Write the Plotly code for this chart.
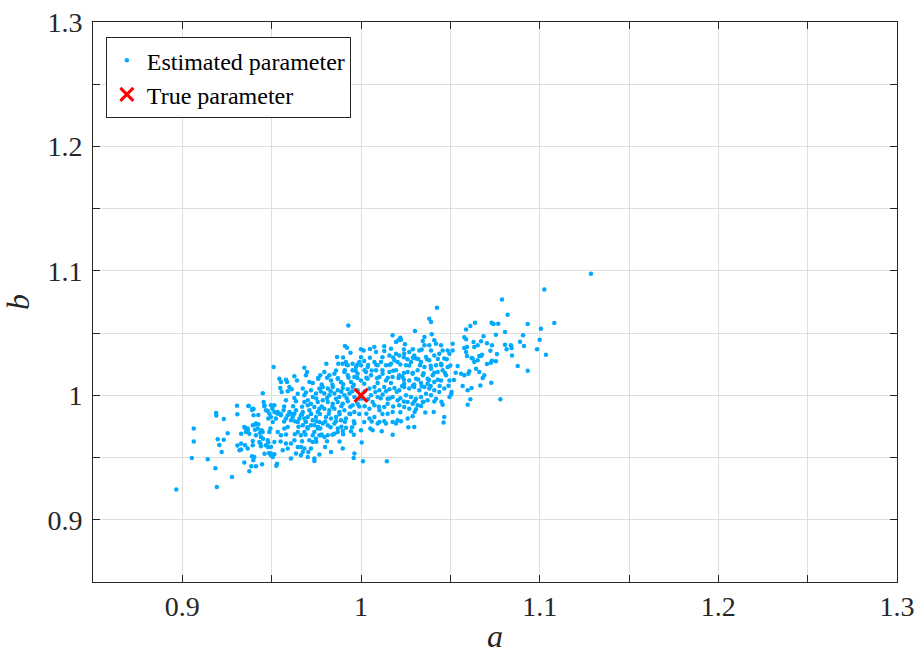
import plotly.graph_objects as go

# Estimated parameters (a, b), read off the reference picture region by region
left_tail = [(0.8966,0.9243),(0.9064,0.9733),(0.9064,0.963),(0.9053,0.9497),(0.9142,0.9486),(0.9185,0.9414),
 (0.9193,0.9264),(0.9278,0.9344),(0.9189,0.9858),(0.919,0.9837),(0.9232,0.981),(0.9198,0.9647),(0.9232,0.9644),
 (0.9207,0.9601),(0.922,0.9545),(0.9254,0.9695),(0.9306,0.9917),(0.9308,0.9847),(0.9372,0.9914),(0.939,0.9882),
 (0.9399,0.989),(0.945,1.0016),(0.9308,0.9596),(0.9329,0.9612),(0.932,0.9558),(0.9329,0.9692),(0.9351,0.9737),
 (0.9366,0.9719),(0.9375,0.9692),(0.9408,0.9765),(0.9425,0.9767),(0.9407,0.9724),(0.9394,0.9633),(0.939,0.951),
 (0.9397,0.9478),(0.9386,0.943),(0.9375,0.939),(0.9347,0.946),(0.9412,0.943),(0.9446,0.9446),(0.9435,0.97),
 (0.9444,0.9719),(0.9452,0.9652),(0.9437,0.9612),(0.944,0.959),(0.9481,0.962),(0.9478,0.9585),(0.946,0.953),
 (0.9485,0.9537),(0.9455,0.9946),(0.9459,0.9912),(0.9496,0.992),(0.9504,0.9893),(0.9478,0.9874),(0.9487,0.9853),
 (0.9496,0.9826),(0.9481,0.9813),(0.9526,0.9861),(0.9534,0.9853),(0.9399,0.9839),(0.9425,0.9842),(0.9329,0.9564),
 (0.9351,0.9598),(0.9496,0.9518),(0.9515,0.9526),(0.953,0.9451),(0.9526,0.9435)]

left_core = [(0.9548,1.0059),(0.9556,1.0027),(0.959,1.0032),(0.9599,1.0067),(0.9612,1.0048),(0.958,0.996),
 (0.9627,0.9978),(0.9636,0.9952),(0.9646,1.0013),(0.9674,1.0054),(0.9683,1.0),(0.9692,1.0022),(0.9702,0.996),
 (0.972,1.004),(0.973,0.9987),(0.9748,1.0014),(0.9767,1.0054),(0.9369,0.9914),(0.9394,0.9893),(0.9459,0.992),
 (0.9468,0.988),(0.9515,0.992),(0.9515,0.9866),(0.9524,0.9813),(0.9506,0.9786),(0.9493,0.9733),(0.9487,0.9705),
 (0.9534,0.9866),(0.9552,0.9839),(0.9567,0.988),(0.958,0.9813),(0.959,0.9839),(0.9599,0.9866),(0.9608,0.98),
 (0.9618,0.9826),(0.9627,0.9853),(0.9636,0.988),(0.9646,0.9786),(0.9655,0.9813),(0.9664,0.9839),(0.9674,0.9866),
 (0.9683,0.9813),(0.9692,0.9786),(0.9702,0.9826),(0.9711,0.988),(0.972,0.9853),(0.973,0.98),(0.9739,0.9759),
 (0.9748,0.9826),(0.9758,0.9866),(0.9767,0.9786),(0.9772,0.9733),(0.9347,0.9746),(0.9356,0.9705),(0.9366,0.9733),
 (0.9394,0.9759),(0.9412,0.9773),(0.9422,0.9733),(0.9412,0.9679),(0.944,0.9665),(0.945,0.9705),(0.9431,0.9625),
 (0.9394,0.9598),(0.9366,0.9572),(0.9468,0.9598),(0.9478,0.9639),(0.9496,0.9585),(0.9403,0.9505),(0.9496,0.9532),
 (0.9506,0.9505),(0.9562,0.9558),(0.958,0.9612),(0.9608,0.9612),(0.9627,0.9639),(0.9646,0.9585),(0.9674,0.9545),
 (0.9664,0.9518),(0.9702,0.9505),(0.972,0.9572),(0.9739,0.9492),(0.9636,0.9532),(0.9608,0.9492),(0.959,0.9572),
 (0.9515,0.9625),(0.9534,0.9705),(0.9552,0.9679),(0.9571,0.9733),(0.9683,0.9946),(0.9702,0.992),(0.972,0.9933),
 (0.9739,0.9906),(0.9758,0.9946),(0.9767,0.9893),(0.9702,0.9733),(0.972,0.9759),(0.9739,0.9705),(0.9758,0.9733),
 (0.973,0.9679),(0.9748,0.9652),(0.9767,0.9679),(0.9683,0.9705),(0.9711,0.9639),(0.9664,0.9679),(0.9646,0.9705),
 (0.9674,0.9759)]

upper_left = [(0.9511,1.0227),(0.9683,1.0222),(0.9543,1.0134),(0.9552,1.0107),(0.958,1.0125),(0.9586,1.0107),
 (0.9627,1.0153),(0.9642,1.012),(0.9692,1.0161),(0.9711,1.0107),(0.973,1.0099),(0.9761,1.0134),(0.9772,1.0161),
 (0.9698,1.0187)]

upper_mid = [(0.9929,1.0562),(0.991,1.0396),(0.9922,1.0383),(0.9941,1.0343),(1.0015,1.0361),(0.9866,1.0308),
 (0.9806,1.0254),(1.0177,1.0482),(1.0196,1.0428),(1.0209,1.0442),(1.022,1.0463),(1.0075,1.0388),(1.013,1.0394),
 (1.0168,1.0375),(1.0159,1.0321),(1.013,1.0356),(1.0084,1.0348),(1.0196,1.0335),(1.0214,1.0321),(0.9873,1.0254),
 (0.9897,1.0254),(0.9916,1.0268),(0.9926,1.0241),(0.9953,1.0254),(0.9972,1.0227),(0.9991,1.0268),(1.0,1.0241),
 (1.0018,1.0275),(1.0037,1.0227),(1.0075,1.0268),(1.0093,1.0241),(1.0112,1.0268),(1.014,1.0241),(1.0168,1.0254),
 (1.0187,1.0281),(1.0205,1.0268),(0.9795,1.0187),(0.9823,1.0161),(0.9851,1.0174),(0.987,1.0134),(0.9832,1.012),
 (0.9907,1.0187),(0.9926,1.0161),(0.9953,1.0201),(0.9963,1.0147),(0.9981,1.0174),(1.0,1.012),(1.0028,1.0187),
 (1.0037,1.0134),(1.0056,1.0161),(1.0084,1.0201),(1.0103,1.0147),(1.0121,1.0174),(1.014,1.012),(1.0159,1.0187),
 (1.0177,1.0147),(1.0196,1.0201),(1.0214,1.0161),(0.9888,1.0107),(0.9944,1.0107),(1.0018,1.0094),(1.0093,1.0099),
 (1.0168,1.0099)]

upper_right = [(1.0425,1.0704),(1.0382,1.0616),(1.0392,1.0589),(1.0302,1.0517),(1.0396,1.049),(1.0355,1.0468),
 (1.0346,1.0436),(1.0355,1.0402),(1.0382,1.0402),(1.041,1.0442),(1.042,1.0415),(1.0392,1.0361),(1.0224,1.0447),
 (1.0246,1.041),(1.0448,1.0402),(1.0457,1.0361),(1.0485,1.0361),(1.0495,1.0335),(1.0513,1.0415),(1.0513,1.0361),
 (1.0242,1.0335),(1.027,1.0348),(1.0298,1.0321),(1.0326,1.0361),(1.0308,1.0295),(1.028,1.0268),(1.0252,1.0241),
 (1.0336,1.0268),(1.0364,1.0308),(1.0382,1.0281),(1.041,1.0321),(1.0438,1.0335),(1.0466,1.0295),(1.0448,1.0254),
 (1.042,1.0241),(1.0392,1.0214),(1.0355,1.0227),(1.0317,1.0201),(1.0289,1.0174),(1.0261,1.0187),(1.0233,1.0147),
 (1.027,1.012),(1.0308,1.0134),(1.0346,1.0161),(1.0373,1.0134),(1.0401,1.0161),(1.0429,1.0187),(1.0457,1.0201),
 (1.0485,1.0227),(1.0476,1.0161),(1.0495,1.012),(1.0448,1.012),(1.041,1.0107),(1.0373,1.0094),(1.0336,1.0099),
 (1.0298,1.0088),(1.0242,1.0094)]

right_tail = [(1.1287,1.0978),(1.1026,1.0851),(1.0789,1.0771),(1.0821,1.0648),(1.1082,1.0581),(1.0933,1.0573),
 (1.1007,1.0536),(1.0731,1.0584),(1.0742,1.0573),(1.0768,1.0576),(1.0638,1.0584),(1.0612,1.0557),(1.0588,1.053),
 (1.0686,1.0474),(1.0806,1.0509),(1.0755,1.0487),(1.0907,1.0482),(1.089,1.0431),(1.0912,1.0396),(1.0839,1.0402),
 (1.0843,1.038),(1.0806,1.0407),(1.0815,1.037),(1.0845,1.0321),(1.1,1.0447),(1.0985,1.037),(1.1035,1.0327),
 (1.0877,1.0235),(1.0933,1.0198),(1.0733,1.0402),(1.0705,1.0418),(1.0724,1.0359),(1.0761,1.0332),(1.0755,1.0273),
 (1.0727,1.0262),(1.0733,1.0278),(1.0705,1.0251),(1.0729,1.0102),(1.078,0.9968),(1.0672,1.0434),(1.0653,1.0402),
 (1.063,1.0428),(1.0634,1.0388),(1.0593,1.0388),(1.0578,1.038),(1.0588,1.0348),(1.0593,1.0316),(1.0619,1.03),
 (1.0634,1.0268),(1.0672,1.0316),(1.0662,1.0316),(1.0677,1.0327),(1.069,1.0161),(1.0681,1.0139),(1.0668,1.008),
 (1.0619,1.0059),(1.0597,1.004),(1.0569,1.0075),(1.0606,1.0193),(1.0601,1.0174),(1.0578,1.0161),(1.056,1.0174),
 (1.0541,1.0235),(1.0612,0.9968),(1.0597,0.9925),(1.0504,1.0006),(1.0457,0.9925),(1.0407,0.9866),(1.0507,1.0027),
 (1.0578,1.0466),(1.0588,1.045),(1.0653,1.0281),(1.0625,1.0295),(1.0644,1.0214),(1.0662,1.0187)]

lower_right = [(1.0495,0.9987),(1.0466,0.9826),(1.0462,0.9781),(1.0289,0.9831),(1.0261,0.9813),(1.0224,0.9791),
 (1.0265,0.9743),(1.0298,0.9746),(1.0242,1.0067),(1.027,1.0054),(1.0298,1.0067),(1.0326,1.004),(1.0355,1.0067),
 (1.0382,1.0054),(1.041,1.004),(1.0438,1.0027),(1.0466,1.0054),(1.0252,1.0),(1.028,0.9987),(1.0308,0.9973),
 (1.0336,0.9987),(1.0364,1.0013),(1.0392,1.0),(1.042,0.9973),(1.0261,0.9946),(1.0289,0.9933),(1.0317,0.992),
 (1.0346,0.9946),(1.0242,0.9906),(1.027,0.9893),(1.0308,0.9888),(1.0336,0.9914),(1.0373,0.996)]

center = [(1.0004,0.962),(0.9963,0.9532),(0.9959,0.9497),(1.0011,0.947),(1.0145,0.947),(0.9898,0.9572),
 (0.9832,0.9545),(0.9799,0.9585),(1.0177,0.9684),(1.0116,0.9711),(1.0052,0.9733),(1.0065,0.9719),(1.0,0.9719),
 (0.9944,0.9711),(0.9916,0.974),(0.987,0.9733),(0.9814,0.9679),(0.9795,0.9665),(1.0205,0.98),(1.0177,0.9786),
 (1.014,0.9773),(1.0103,0.9786),(1.0075,0.9826),(1.0047,0.9813),(1.0018,0.9786),(0.9963,0.9773),(1.0177,0.9866),
 (1.0149,0.9853),(1.013,0.9906),(1.0103,0.988),(1.0075,0.992),(1.0047,0.9893),(0.9786,1.0067),(0.9814,1.0054),
 (0.9842,1.0067),(0.987,1.004),(0.9898,1.0059),(0.9926,1.0048),(0.9953,1.0067),(0.9981,1.004),(0.9795,1.0014),
 (0.9823,1.0),(0.9851,1.0014),(0.9879,0.9987),(0.9907,1.0),(0.9935,1.0014),(0.9963,0.9987),(0.9991,0.9973),
 (0.9786,0.996),(0.9814,0.9946),(0.9842,0.9933),(0.987,0.9946),(0.9898,0.9933),(0.9926,0.9952),(0.9953,0.992),
 (0.9981,0.9933),(0.9795,0.9893),(0.9823,0.988),(0.9851,0.9893),(0.9879,0.9866),(0.9907,0.988),(0.9935,0.9853),
 (0.9963,0.9866),(0.9804,0.9826),(0.9832,0.9813),(0.986,0.9826),(0.9888,0.98),(0.9916,0.9813),(0.9786,0.9773),
 (0.9814,0.9759),(0.9851,0.9773),(1.0047,1.0054),(1.0075,1.0067),(1.0103,1.004),(1.013,1.0067),(1.0159,1.0048),
 (1.0187,1.0059),(1.0214,1.004),(1.0056,1.0),(1.0093,0.9987),(1.0121,1.0006),(1.0149,0.9973),(1.0177,0.9987),
 (1.0205,0.996),(1.0065,0.9946),(1.0149,0.9933),(1.0214,0.992)]

lower = [(0.9739,0.9472),(0.9767,0.9524),(0.9664,0.9585),(0.9683,0.9572),(0.9705,0.9545),(1.0196,0.9773),
 (1.0093,0.9773),(0.9898,0.9713),(0.987,0.9705),(0.9851,0.9692),(0.9776,0.9679),(0.973,0.9625)]

# extra points estimated for the saturated core of the cloud
core_fill = [
 (0.978,1.0087),(0.984,1.0085),(0.990,1.0089),(0.996,1.0086),
 (0.9775,1.003),(0.983,1.0032),(0.989,1.0028),(0.995,1.0031),(1.002,1.003),(1.008,1.0027),(1.014,1.0032),(1.020,1.0029),
 (0.975,0.9975),(0.981,0.9978),(0.986,0.9972),(0.992,0.9976),(1.001,0.9975),(1.004,0.9971),(1.011,0.9977),(1.016,0.9974),(1.022,0.9976),
 (0.957,0.991),(0.962,0.9912),(0.967,0.9908),(0.978,0.9911),(0.984,0.9909),(0.989,0.9912),(0.994,0.9908),(0.999,0.991),(1.002,0.9913),(1.010,0.9909),(1.018,0.9911),
 (0.955,0.985),(0.961,0.9852),(0.967,0.9848),(0.972,0.9851),(0.977,0.9849),(0.982,0.9852),(0.988,0.9848),(0.994,0.9851),(0.999,0.9849),(1.003,0.9852),(1.012,0.985),
 (0.957,0.979),(0.963,0.9792),(0.969,0.9788),(0.975,0.9791),(0.980,0.9789),(0.986,0.9792),(0.991,0.9788),(0.996,0.9791),(1.006,0.9789),(1.013,0.9792),
 (0.959,0.9745),(0.965,0.9747),(0.970,0.9743),(0.976,0.9746),(0.983,0.9744),(0.989,0.9747),(0.995,0.9743),
 (0.958,0.9685),(0.963,0.9687),(0.969,0.9683),(0.978,0.9686),(0.984,0.9684),(0.990,0.9687),(0.996,0.9683),
 (0.955,0.963),(0.967,0.9632),(0.975,0.9628),(0.981,0.9631),(0.988,0.9629),
 (0.976,1.014),(0.981,1.0142),(0.987,1.0138),(0.993,1.0141),(0.998,1.0139),(1.003,1.0142),(1.009,1.0138),(1.015,1.0141),(1.021,1.0139),
 (0.986,1.020),(0.991,1.0202),(0.997,1.0198),(1.002,1.0201),(1.006,1.0199),(1.012,1.0202),(1.018,1.0198),
 (0.992,1.0245),(0.998,1.0247),(1.004,1.0243),(1.0085,1.0246),(1.016,1.0244),(1.022,1.0247),
 (0.990,1.0305),(1.000,1.0307),(1.005,1.0303),(1.012,1.0306),(1.018,1.0304),(1.024,1.0307),(1.029,1.0303),
 (1.000,1.037),(1.005,1.0372),(1.024,1.0368),(1.029,1.0371),(1.034,1.0369),
 (1.023,1.0075),(1.029,1.0077),(1.034,1.0073),(1.039,1.0076),(1.044,1.0074),(1.049,1.0077),
 (1.024,1.0125),(1.032,1.0127),(1.038,1.0123),(1.043,1.0126),(1.052,1.0124),
 (1.024,1.018),(1.029,1.0182),(1.035,1.0178),(1.041,1.0181),(1.047,1.0179),(1.053,1.0182),
 (1.027,1.024),(1.033,1.0242),(1.039,1.0238),(1.045,1.0241),(1.050,1.0239),
 (1.026,1.029),(1.032,1.0292),(1.037,1.0288),(1.043,1.0291),(1.048,1.0289),
 (1.024,0.995),(1.030,0.9952),(1.035,0.9948),(1.041,0.9951),(1.045,0.9949),
 (1.022,0.9865),(1.030,0.9867),(1.036,0.9863)]

true_a = [1.0]
true_b = [1.0]

groups = [left_tail, left_core, upper_left, upper_mid, upper_right, right_tail, lower_right, center, lower, core_fill]
est_a = [p[0] for g in groups for p in g]
est_b = [p[1] for g in groups for p in g]

AX = '#262626'
GRID = '#dedede'
FONT = 'Liberation Serif, Times New Roman, serif'

fig = go.Figure()
fig.add_trace(go.Scatter(x=est_a, y=est_b, mode='markers', name='Estimated parameter',
                         marker=dict(color='#00AAFF', size=4.5, line=dict(width=0))))
fig.add_trace(go.Scatter(x=true_a, y=true_b, mode='markers', name='True parameter',
                         marker=dict(symbol='x-thin', size=13, color='#FF0000',
                                     line=dict(width=3, color='#FF0000'))))

axis_common = dict(range=[0.85, 1.3], tick0=0.9, dtick=0.1, ticks='inside', ticklen=7, tickcolor=AX,
                   showline=True, linecolor=AX, linewidth=1, mirror='ticks', showgrid=True,
                   gridcolor=GRID, gridwidth=1, zeroline=False, automargin=False,
                   tickfont=dict(family=FONT, size=28, color=AX),
                   minor=dict(dtick=0.05, ticks='inside', ticklen=7, tickcolor=AX,
                              showgrid=True, gridcolor=GRID, gridwidth=1))

fig.update_layout(
    width=919, height=654,
    margin=dict(l=93, r=22, t=22, b=72),
    plot_bgcolor='white', paper_bgcolor='white',
    font=dict(family=FONT, size=26, color=AX),
    xaxis=dict(**axis_common, ticklabelstandoff=-1,
               title=dict(text='<i>a</i>', font=dict(family=FONT, size=32, color=AX), standoff=22)),
    yaxis=dict(**axis_common, ticklabelstandoff=4,
               title=dict(text='<i>b</i>', font=dict(family=FONT, size=32, color=AX), standoff=12)),
    legend=dict(x=0.016, y=0.973, xanchor='left', yanchor='top', bgcolor='white',
                bordercolor=AX, borderwidth=1, font=dict(family=FONT, size=24, color='black'),
                itemwidth=30, tracegroupgap=0),
    showlegend=True,
)

fig.write_html('out.html')
